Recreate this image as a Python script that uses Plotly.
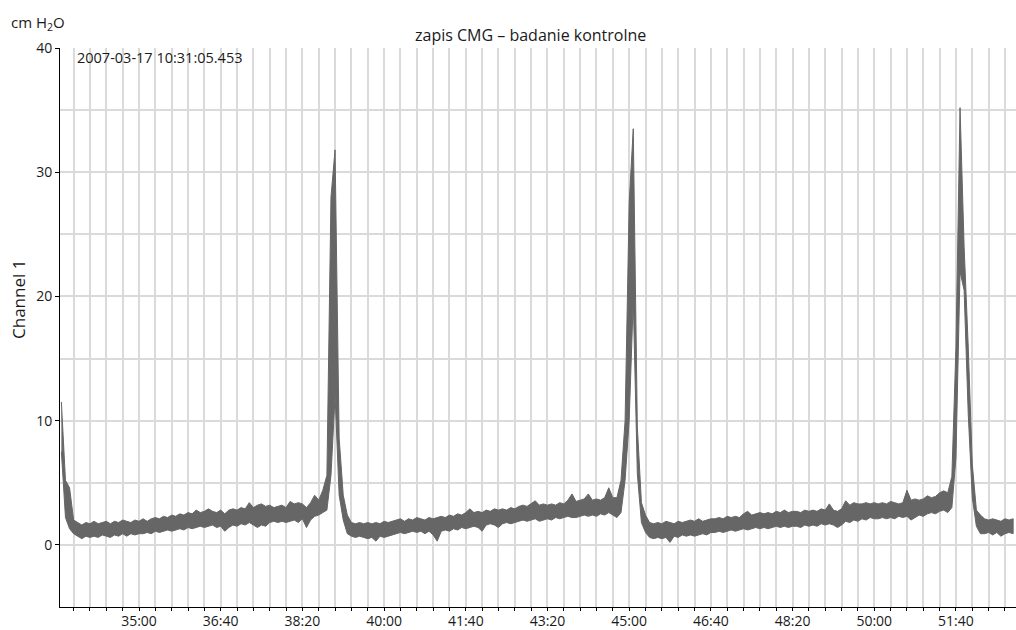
import plotly.graph_objects as go

# ---- data (seconds of the recording, 5-s bins; per-bin min / max in cm H2O) ----
T_START = 2005
T_STEP = 5

LO = [
    7.5, 2.2, 1.3, 0.9, 0.7, 0.5, 0.7, 0.6, 0.7, 0.6, 0.8, 0.7, 0.6, 0.8, 0.7, 0.9, 0.7, 0.9, 0.8, 0.9,
    0.9, 1.0, 0.9, 1.1, 1.0, 1.1, 1.2, 1.1, 1.2, 1.3, 1.2, 1.4, 1.3, 1.4, 1.5, 1.4, 1.5, 1.6, 1.4, 1.5,
    1.1, 1.4, 1.6, 1.5, 1.7, 1.6, 1.8, 1.6, 1.4, 1.6, 1.5, 1.8, 1.9, 1.8, 1.9, 1.8, 1.9, 2.0, 1.8, 2.1,
    1.4, 2.0, 2.3, 2.4, 2.6, 2.8, 5.6, 12.0, 4.0, 2.0, 0.9, 0.7, 0.6, 0.7, 0.6, 0.5, 0.6, 0.3, 0.7, 0.6,
    0.7, 0.8, 0.9, 1.0, 0.9, 1.0, 1.1, 1.0, 1.1, 0.9, 1.1, 0.8, 0.3, 1.1, 1.2, 1.1, 1.3, 1.2, 1.4, 1.3,
    1.4, 1.5, 1.4, 1.1, 1.6, 1.7, 1.6, 1.4, 1.7, 1.8, 1.7, 1.8, 1.9, 2.0, 1.9, 2.0, 2.1, 1.9, 2.0, 2.1,
    2.0, 2.2, 2.1, 2.2, 2.3, 2.2, 2.2, 2.3, 2.4, 2.3, 2.4, 2.3, 2.5, 2.4, 2.6, 2.4, 2.2, 2.6, 5.2, 10.0,
    19.7, 5.7, 1.8, 1.0, 0.6, 0.5, 0.6, 0.5, 0.6, 0.2, 0.7, 0.6, 0.8, 0.7, 0.8, 0.7, 0.8, 0.9, 0.8, 1.0,
    1.0, 1.1, 1.0, 1.1, 1.2, 1.1, 1.2, 1.3, 1.2, 1.3, 1.4, 1.3, 1.4, 1.3, 1.4, 1.5, 1.4, 1.5, 1.4, 1.5,
    1.5, 1.4, 1.6, 1.5, 1.6, 1.5, 1.7, 1.6, 1.7, 1.6, 1.4, 1.6, 1.9, 1.8, 2.0, 1.9, 2.1, 2.0, 2.2, 2.1,
    2.1, 2.2, 2.1, 2.2, 2.1, 2.3, 2.2, 2.3, 2.0, 2.2, 2.4, 2.3, 2.5, 2.6, 2.5, 2.7, 2.8, 2.6, 3.0, 7.0,
    22.0, 20.5, 10.6, 3.8, 1.5, 0.9, 0.9, 1.0, 0.8, 1.0, 0.7, 0.9, 1.0, 0.9,
]
HI = [
    11.5, 5.2, 4.6, 2.0, 1.8, 1.6, 1.8, 1.7, 1.9, 1.7, 1.8, 1.9, 1.7, 1.9, 1.8, 2.0, 1.9, 1.8, 2.0, 1.9,
    2.1, 1.9, 2.1, 2.2, 2.1, 2.3, 2.2, 2.4, 2.3, 2.5, 2.4, 2.6, 2.5, 2.8, 2.6, 2.7, 2.9, 2.7, 2.6, 2.8,
    2.5, 2.8, 2.9, 2.8, 3.0, 2.9, 3.4, 3.0, 3.2, 3.3, 3.1, 3.2, 3.0, 3.1, 3.2, 3.0, 3.5, 3.3, 3.4, 3.3,
    3.0, 3.4, 4.0, 3.6, 4.4, 5.6, 28.0, 31.8, 8.6, 4.0, 2.4, 1.8, 1.7, 1.8, 1.7, 1.8, 1.7, 1.8, 1.7, 1.9,
    1.8, 1.9, 2.0, 2.1, 1.9, 2.1, 2.0, 2.2, 2.1, 2.0, 2.2, 2.1, 2.2, 2.3, 2.2, 2.4, 2.3, 2.5, 2.4, 2.6,
    2.9, 2.6, 2.7, 2.6, 2.8, 2.7, 2.9, 2.8, 2.9, 2.8, 3.0, 2.9, 3.1, 3.2, 3.1, 3.3, 3.55, 3.2, 3.3, 3.2,
    3.3, 3.2, 3.4, 3.3, 3.6, 4.1, 3.5, 3.6, 3.7, 4.1, 3.6, 3.7, 3.6, 3.8, 4.6, 3.8, 3.8, 5.2, 10.0, 27.5,
    33.5, 9.5, 3.4, 2.4, 1.8, 1.7, 1.8, 1.7, 1.9, 1.8, 1.7, 1.9, 1.8, 1.9, 2.0, 1.9, 2.1, 1.9, 2.0, 2.1,
    2.1, 2.2, 2.1, 2.3, 2.2, 2.3, 2.2, 2.5, 2.7, 2.4, 2.5, 2.6, 2.5, 2.6, 2.5, 2.7, 2.6, 2.8, 2.6, 2.7,
    2.7, 2.6, 2.8, 2.7, 2.8, 2.7, 2.9, 2.8, 3.3, 2.8, 2.7, 2.9, 3.55, 3.2, 3.4, 3.3, 3.3, 3.4, 3.3, 3.4,
    3.3, 3.4, 3.3, 3.5, 3.4, 3.3, 3.4, 4.4, 3.6, 3.7, 3.6, 3.7, 3.95, 3.8, 3.9, 4.2, 4.35, 4.2, 5.5, 15.9,
    35.2, 24.0, 16.0, 6.5, 2.8, 2.4, 2.1, 2.0, 2.1, 2.0, 1.9, 2.1, 2.0, 2.1,
]

X_TICK_SECONDS = [2100, 2200, 2300, 2400, 2500, 2600, 2700, 2800, 2900, 3000, 3100]
X_TICK_LABELS = ["35:00", "36:40", "38:20", "40:00", "41:40", "43:20",
                 "45:00", "46:40", "48:20", "50:00", "51:40"]
Y_TICKS = [0, 10, 20, 30, 40]
X_RANGE = [2003.3, 3173.5]
Y_RANGE = [-5, 40]

TITLE = "zapis CMG – badanie kontrolne"
TIMESTAMP = "2007-03-17 10:31:05.453"
Y_TITLE = "Channel 1"
UNIT = "cm H<sub>2</sub>O"

# ---- min/max envelope band (upper edge forward, lower edge back) ----
times = [T_START + T_STEP * k for k in range(len(LO))]
band_x = times + times[::-1]
band_y = HI + LO[::-1]

FONT = "Open Sans, Noto Sans, sans-serif"
GRID = "#dadada"
TRACE = "#666666"

fig = go.Figure()
fig.add_trace(go.Scatter(x=band_x, y=band_y, mode="lines", fill="toself",
                         fillcolor=TRACE, line=dict(color=TRACE, width=1),
                         hoverinfo="skip", showlegend=False))

W, H = 1016, 630
ML, MR, MT, MB = 60, 0, 48, 23
pw, ph = W - ML - MR, H - MT - MB

fig.update_layout(
    width=W, height=H,
    margin=dict(l=ML, r=MR, t=MT, b=MB, pad=0, autoexpand=False),
    plot_bgcolor="white", paper_bgcolor="white",
    font=dict(family=FONT, size=14, color="#1a1a1a"),
    showlegend=False,
    xaxis=dict(
        range=X_RANGE, tickmode="array", tickvals=X_TICK_SECONDS, ticktext=X_TICK_LABELS,
        showgrid=True, gridcolor=GRID, gridwidth=2, zeroline=False, automargin=False,
        showline=True, linecolor="black", linewidth=1,
        ticks="outside", ticklen=3, tickcolor="black", tickwidth=1,
        tickfont=dict(size=14), ticklabelstandoff=-2,
        minor=dict(tickmode="linear", tick0=0, dtick=20, showgrid=True,
                   gridcolor=GRID, gridwidth=2, ticks="outside", ticklen=3,
                   tickcolor="black"),
    ),
    yaxis=dict(
        range=Y_RANGE, tickmode="array", tickvals=Y_TICKS,
        showgrid=True, gridcolor=GRID, gridwidth=2, zeroline=False, automargin=False,
        showline=True, linecolor="black", linewidth=1,
        ticks="outside", ticklen=4, tickcolor="black",
        tickfont=dict(size=14),
        minor=dict(tickmode="linear", tick0=0, dtick=5, showgrid=True,
                   gridcolor=GRID, gridwidth=2),
    ),
)

def px_x(px):
    return (px - ML) / pw

def px_y(py):
    return 1 - (py - MT) / ph

fig.add_annotation(text=TITLE, xref="paper", yref="paper", x=px_x(530), y=px_y(35),
                   xanchor="center", yanchor="middle", showarrow=False, font=dict(size=16))
fig.add_annotation(text=UNIT, xref="paper", yref="paper", x=px_x(9), y=px_y(23),
                   xanchor="left", yanchor="middle", showarrow=False, font=dict(size=15))
fig.add_annotation(text=TIMESTAMP, xref="paper", yref="paper", x=px_x(75), y=px_y(57),
                   xanchor="left", yanchor="middle", showarrow=False, font=dict(size=14.5))
fig.add_annotation(text=Y_TITLE, xref="paper", yref="paper", x=px_x(18), y=px_y(300),
                   xanchor="center", yanchor="middle", textangle=-90, showarrow=False,
                   font=dict(size=17))

fig.write_html("out.html", config={"displayModeBar": False},
               post_script="document.body.style.margin='0px';document.body.style.overflow='hidden';")
